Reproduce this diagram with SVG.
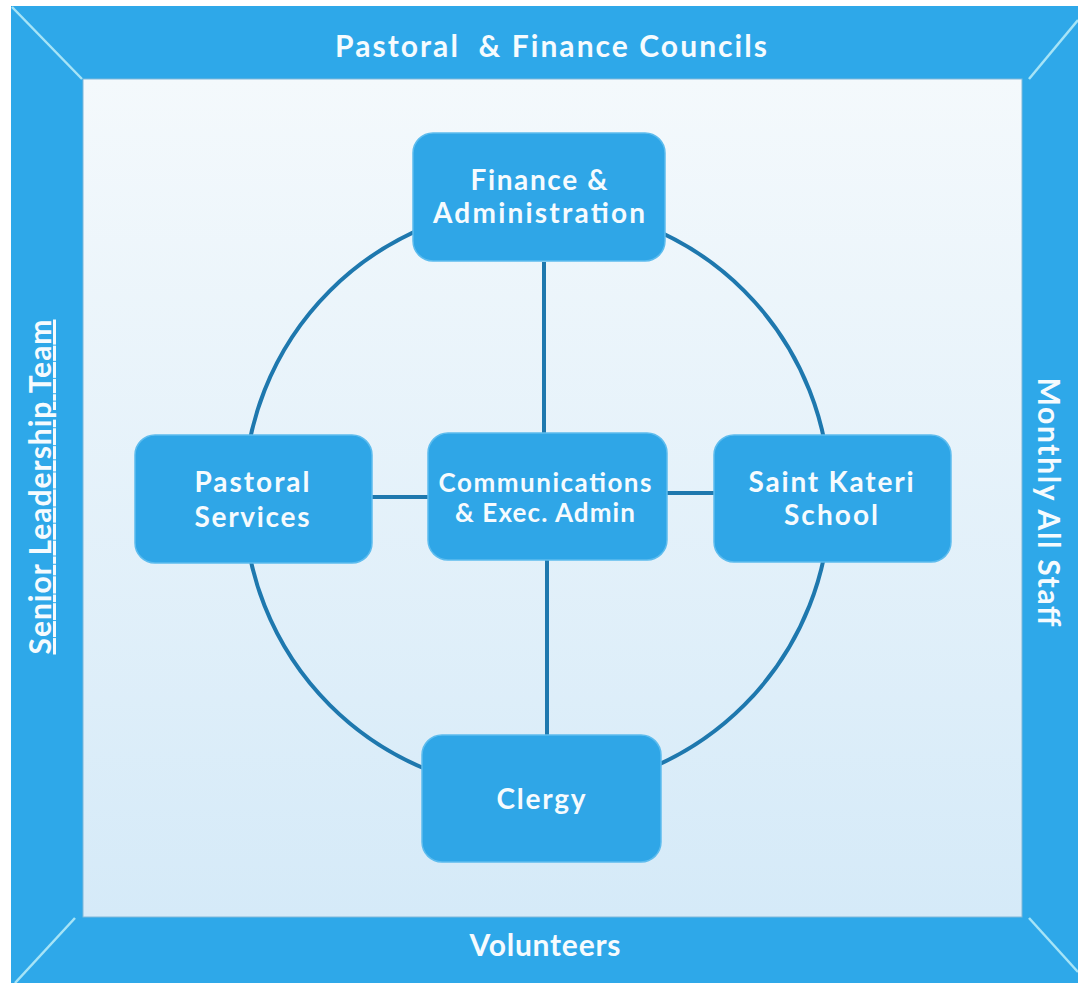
<svg xmlns="http://www.w3.org/2000/svg" width="1078" height="983" viewBox="0 0 1078 983">
<defs>
<linearGradient id="bg" x1="0" y1="0" x2="0" y2="1">
<stop offset="0" stop-color="#F4F9FC"/>
<stop offset="1" stop-color="#D5EAF8"/>
</linearGradient>
<style>
.frame{fill:#2EA8E9;}
.diag{stroke:#A6E4F7;stroke-width:2.5;}
.node{fill:#2FA6E7;stroke:#5DBCEE;stroke-width:1.5;}
.conn{stroke:#1E78AE;stroke-width:4;fill:none;}
.t{font-family:Lato,"Open Sans","Liberation Sans",sans-serif;font-weight:bold;fill:#F6FBFE;font-size:28px;text-anchor:middle;}
.big{font-size:30px;}
.mid{font-size:26px;}
</style>
</defs>
<rect width="1078" height="983" fill="#FFFFFF"/>
<rect class="frame" x="11" y="6" width="1067" height="977"/>
<rect x="83" y="79" width="939" height="838" fill="url(#bg)" stroke="#7FB8DA" stroke-width="1"/>
<line class="diag" x1="12" y1="7" x2="82" y2="79"/>
<line class="diag" x1="1078" y1="20" x2="1029" y2="79"/>
<line class="diag" x1="1029" y1="918" x2="1078" y2="972"/>
<line class="diag" x1="75" y1="918" x2="15" y2="983"/>
<text class="t big" x="551" y="57" xml:space="preserve" textLength="432" lengthAdjust="spacing">Pastoral  &amp; Finance Councils</text>
<text class="t big" x="545" y="956" textLength="151" lengthAdjust="spacing">Volunteers</text>
<text class="t big" transform="translate(51,487) rotate(-90)" text-decoration="underline" textLength="335" lengthAdjust="spacing">Senior Leadership Team</text>
<text class="t big" transform="translate(1038,502) rotate(90)" textLength="249" lengthAdjust="spacing">Monthly All Staff</text>
<g id="connectors">
<circle class="conn" cx="537" cy="498" r="293"/>
<line class="conn" x1="544" y1="262" x2="544" y2="433"/>
<line class="conn" x1="547" y1="560" x2="547" y2="735"/>
<line class="conn" x1="372" y1="497" x2="428" y2="497"/>
<line class="conn" x1="667" y1="493" x2="714" y2="493"/>
</g>
<g id="finance">
<rect class="node" x="413" y="133" width="252" height="128" rx="20"/>
<text class="t" x="539" y="190" textLength="137" lengthAdjust="spacing">Finance &amp;</text>
<text class="t" x="539" y="223" textLength="212" lengthAdjust="spacing">Administration</text>
</g>
<g id="pastoral">
<rect class="node" x="135" y="435" width="237" height="128" rx="20"/>
<text class="t" x="252" y="492" textLength="115" lengthAdjust="spacing">Pastoral</text>
<text class="t" x="252" y="527" textLength="115" lengthAdjust="spacing">Services</text>
</g>
<g id="communications">
<rect class="node" x="428" y="433" width="239" height="127" rx="20"/>
<text class="t mid" x="545" y="492" textLength="213" lengthAdjust="spacing">Communications</text>
<text class="t mid" x="545" y="522" textLength="180" lengthAdjust="spacing">&amp; Exec. Admin</text>
</g>
<g id="kateri">
<rect class="node" x="714" y="435" width="237" height="127" rx="20"/>
<text class="t" x="831" y="492" textLength="165" lengthAdjust="spacing">Saint Kateri</text>
<text class="t" x="831" y="525" textLength="94" lengthAdjust="spacing">School</text>
</g>
<g id="clergy">
<rect class="node" x="422" y="735" width="239" height="127" rx="20"/>
<text class="t" x="541" y="809" textLength="89" lengthAdjust="spacing">Clergy</text>
</g>
</svg>
